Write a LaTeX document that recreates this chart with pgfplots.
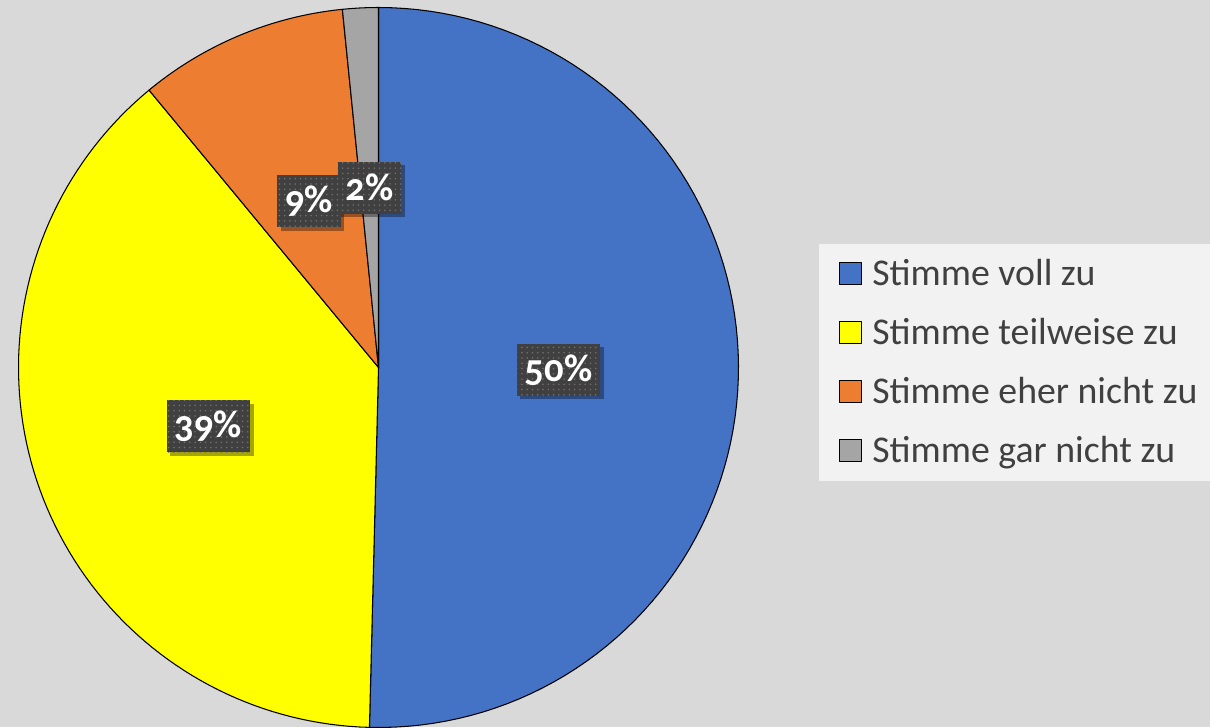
\documentclass[border=0pt]{standalone}
\usepackage{fontspec}
\setmainfont{Carlito}[Numbers=OldStyle]
\usepackage{pgfplots}
\pgfplotsset{compat=1.18}
\usetikzlibrary{patterns,shadows}

\definecolor{bg}{HTML}{D9D9D9}
\definecolor{legbg}{HTML}{F2F2F2}
\definecolor{cblue}{HTML}{4472C4}
\definecolor{cyellow}{HTML}{FFFF00}
\definecolor{corange}{HTML}{ED7D31}
\definecolor{cgray}{HTML}{A5A5A5}
\definecolor{txt}{HTML}{404040}
\definecolor{lab}{HTML}{404040}

% shares in percent, clockwise from 12 o'clock
\def\sA{50.4}
\def\sB{38.6}
\def\sC{9.4}
\def\sD{1.6}
\pgfmathsetmacro\aA{90}
\pgfmathsetmacro\aB{\aA-3.6*\sA}
\pgfmathsetmacro\aC{\aB-3.6*\sB}
\pgfmathsetmacro\aD{\aC-3.6*\sC}
\pgfmathsetmacro\aE{\aD-3.6*\sD}

\tikzset{
  pielabel/.style={
    drop shadow={shadow xshift=0.07cm, shadow yshift=-0.07cm, opacity=0.35, fill=black},
    preaction={fill=lab}, pattern=dots, pattern color=lab!75!white,
    text=white, font=\fontsize{22}{26}\selectfont\bfseries,
    minimum height=1.04cm, inner xsep=0.16cm, inner ysep=0pt},
  wedge/.style={draw=black, line width=0.6pt, samples=90, line join=round}
}

\begin{document}
\begin{tikzpicture}
\useasboundingbox (0,0) rectangle (24.2,14.54);
\fill[bg] (0,0) rectangle (24.2,14.54);
\fill[legbg] (16.38,4.92) rectangle (24.3,9.66);
\begin{axis}[
  at={(7.57cm,7.19cm)}, anchor=center,
  width=14.4cm, height=14.4cm, scale only axis,
  xmin=-1, xmax=1, ymin=-1, ymax=1,
  hide axis, clip=false,
  legend style={at={(1.1396,0.6715)}, anchor=north west,
    draw=none, fill=none, inner sep=0pt, row sep=0pt,
    font=\fontsize{21.5}{26}\selectfont, text=txt,
    nodes={inner sep=0pt, minimum height=1.18cm}},
  legend cell align=left,
  legend image code/.code={
    \draw[#1, draw=black, line width=0.5pt] (0cm,-0.22cm) rectangle (0.44cm,0.22cm);
    \path (0.64cm,0cm);},
]
\addplot[wedge, fill=cblue, domain=\aB:\aA] ({cos(x)},{sin(x)}) -- (axis cs:0,0) -- cycle;
\addlegendentry{Stimme voll zu}
\addplot[wedge, fill=cyellow, domain=\aC:\aB] ({cos(x)},{sin(x)}) -- (axis cs:0,0) -- cycle;
\addlegendentry{Stimme teilweise zu}
\addplot[wedge, fill=corange, domain=\aD:\aC] ({cos(x)},{sin(x)}) -- (axis cs:0,0) -- cycle;
\addlegendentry{Stimme eher nicht zu}
\addplot[wedge, fill=cgray, domain=\aE:\aD] ({cos(x)},{sin(x)}) -- (axis cs:0,0) -- cycle;
\addlegendentry{Stimme gar nicht zu}

\node[pielabel] at (axis cs:{0.5*cos((\aA+\aB)/2)},{0.5*sin((\aA+\aB)/2)}) {50\%};
\node[pielabel] at (axis cs:{0.5*cos((\aB+\aC)/2)},{0.5*sin((\aB+\aC)/2)}) {39\%};
\node[pielabel] at (axis cs:{0.5*cos((\aC+\aD)/2)},{0.5*sin((\aC+\aD)/2)}) {9\%};
\node[pielabel] at (axis cs:{0.5*cos((\aD+\aE)/2)},{0.5*sin((\aD+\aE)/2)}) {2\%};
\end{axis}
\end{tikzpicture}
\end{document}
